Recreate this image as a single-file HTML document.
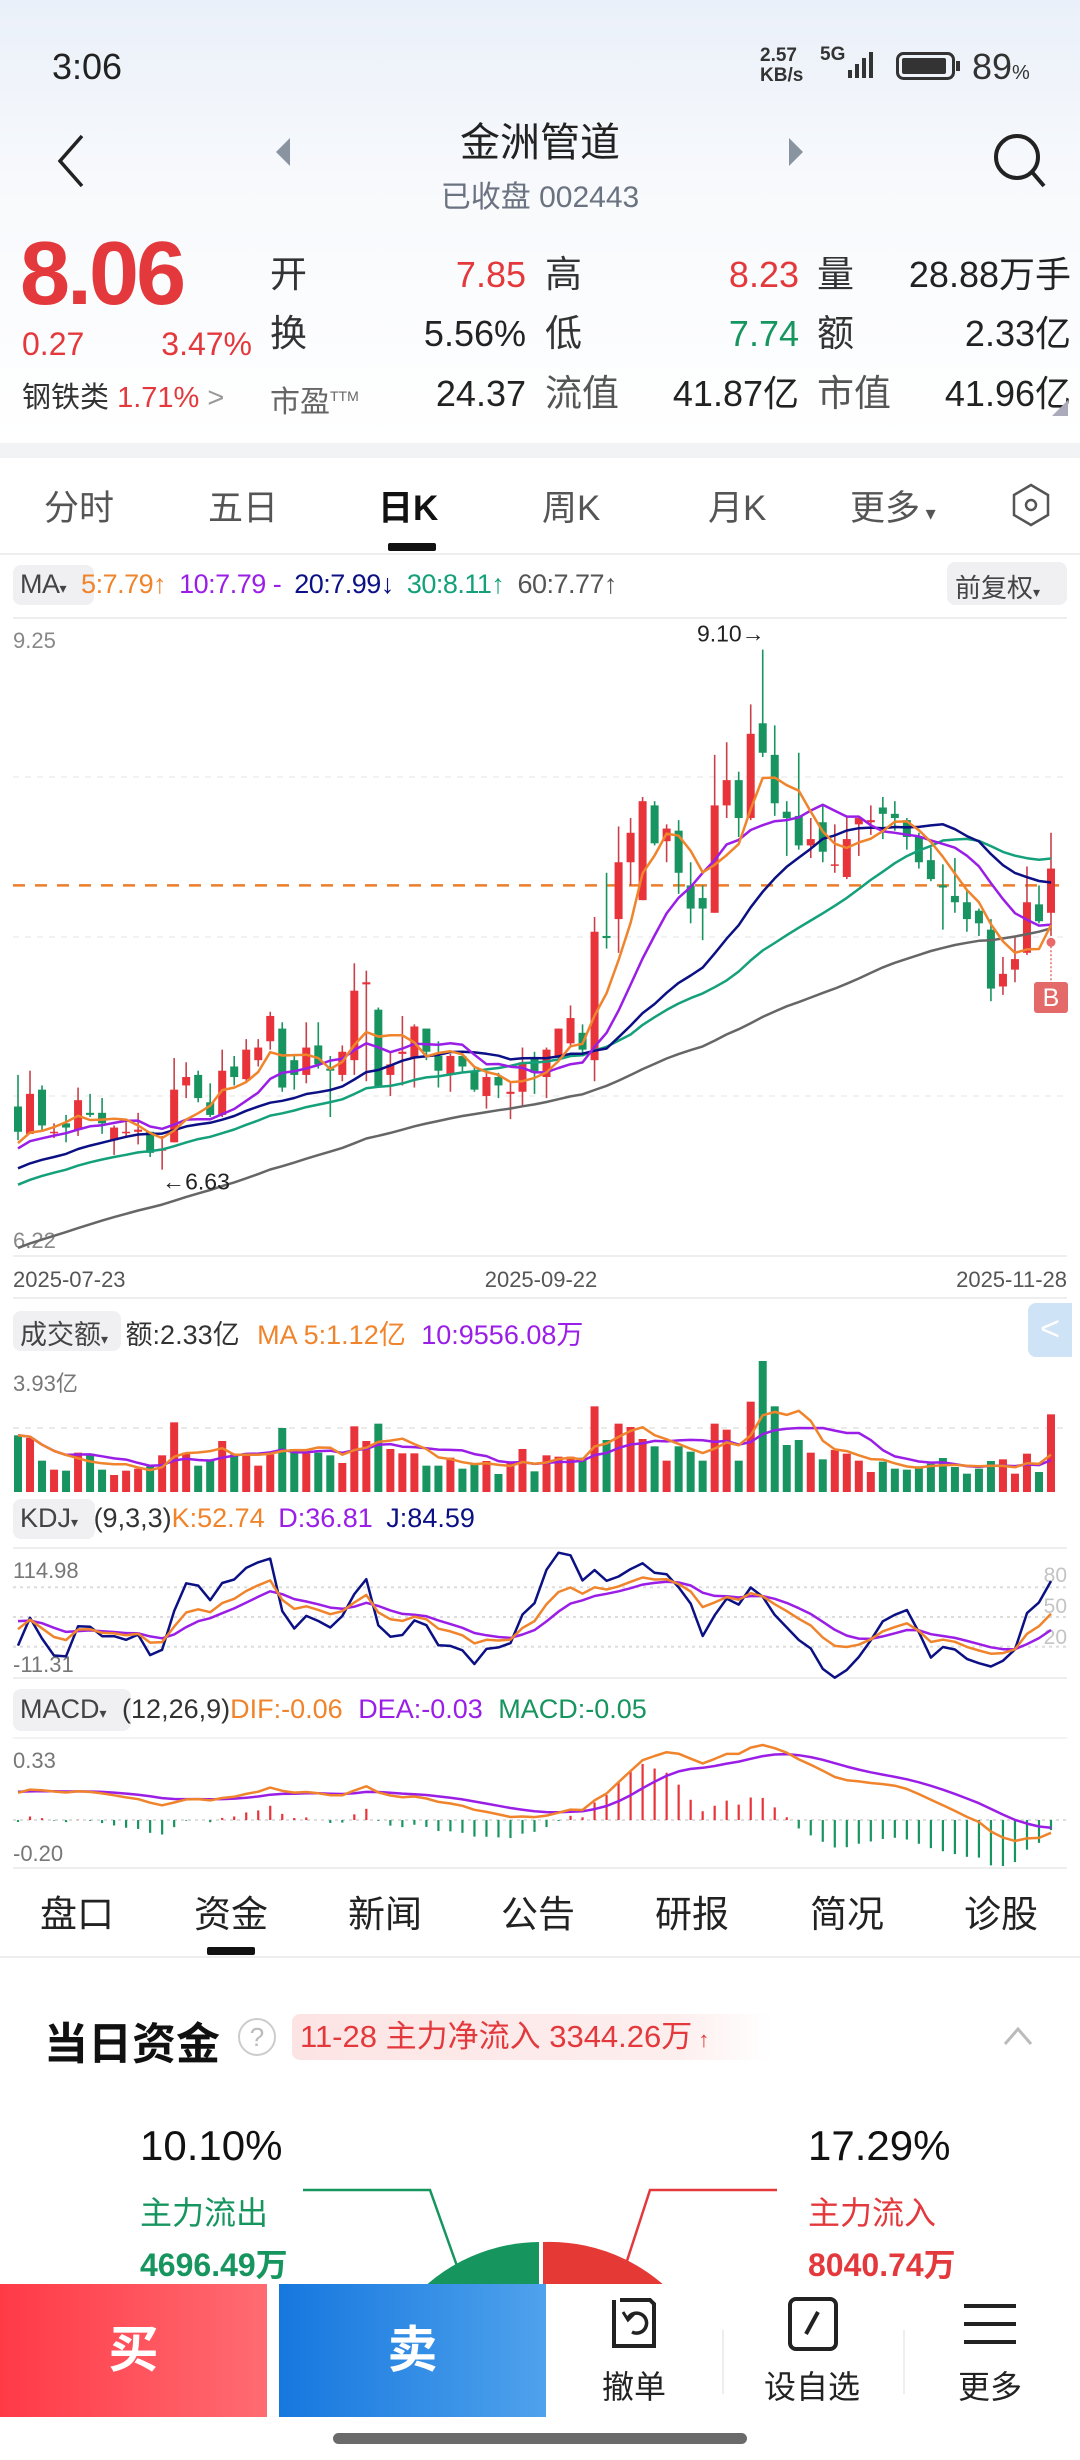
<!DOCTYPE html>
<html><head><meta charset="utf-8">
<style>
*{margin:0;padding:0;box-sizing:border-box}
body{width:1080px;height:2460px;position:relative;overflow:hidden;background:#fff;font-family:"Liberation Sans","Noto Sans CJK SC",sans-serif;color:#222}
.a{position:absolute;white-space:nowrap}
.r{text-align:right}
.red{color:#e4393c}.grn{color:#16955f}
.box{position:absolute;background:#f0f0f2;border-radius:8px}
.q .a{line-height:44px;height:44px}
</style></head><body>
<div class="a" style="left:0;top:0;width:1080px;height:443px;background:linear-gradient(#eaf0f9,#f7f9fc 40%,#fff)"></div>
<div class="a" style="left:52px;top:46px;font-size:36px;color:#222">3:06</div>
<div class="a" style="left:760px;top:46px;font-size:19px;font-weight:bold;line-height:20px;color:#333">2.57<br>KB/s</div>
<div class="a" style="left:820px;top:44px;font-size:19px;font-weight:bold;color:#333">5G</div>
<svg class="a" style="left:842px;top:48px" width="40" height="32"><rect x="6" y="22" width="4" height="8" fill="#333"/><rect x="13" y="16" width="4" height="14" fill="#333"/><rect x="20" y="10" width="4" height="20" fill="#333"/><rect x="27" y="4" width="4" height="26" fill="#333"/></svg>
<svg class="a" style="left:896px;top:52px" width="66" height="28"><rect x="1.5" y="1.5" width="56" height="25" rx="6" fill="none" stroke="#333" stroke-width="3"/><rect x="6" y="6" width="44" height="16" rx="2" fill="#333"/><rect x="60" y="9" width="4" height="10" fill="#333"/></svg>
<div class="a" style="left:972px;top:46px;font-size:36px;color:#333">89<span style="font-size:20px">%</span></div>

<svg class="a" style="left:54px;top:132px" width="34" height="58"><path d="M28 4 L6 29 L28 54" fill="none" stroke="#222" stroke-width="3.5"/></svg>
<svg class="a" style="left:274px;top:136px" width="18" height="32"><path d="M16 2 L2 16 L16 30Z" fill="#8a93a0"/></svg>
<div class="a" style="left:340px;top:110px;width:400px;text-align:center;font-size:40px;color:#222">金洲管道</div>
<div class="a" style="left:340px;top:172px;width:400px;text-align:center;font-size:30px;color:#6b7280">已收盘 002443</div>
<svg class="a" style="left:787px;top:136px" width="18" height="32"><path d="M2 2 L16 16 L2 30Z" fill="#8a93a0"/></svg>
<svg class="a" style="left:990px;top:130px" width="60" height="60"><circle cx="27" cy="27" r="21" fill="none" stroke="#222" stroke-width="4"/><line x1="42" y1="42" x2="54" y2="56" stroke="#222" stroke-width="4"/></svg>

<div class="a red" style="left:20px;top:226px;font-size:90px;font-weight:bold;letter-spacing:-3px;line-height:96px">8.06</div>
<div class="a red" style="left:22px;top:326px;font-size:32px">0.27</div>
<div class="a red r" style="left:130px;width:122px;top:326px;font-size:32px">3.47%</div>
<div class="a" style="left:22px;top:374px;font-size:29px;color:#333">钢铁类 <span class="red">1.71%</span> <span style="color:#999">&gt;</span></div>

<div class="a q" style="left:0;top:0">
<div class="a" style="left:270px;top:253px;font-size:37px;color:#333">开</div>
<div class="a red r" style="left:400px;width:126px;top:253px;font-size:36px">7.85</div>
<div class="a" style="left:545px;top:253px;font-size:37px;color:#333">高</div>
<div class="a red r" style="left:660px;width:139px;top:253px;font-size:36px">8.23</div>
<div class="a" style="left:817px;top:253px;font-size:37px;color:#333">量</div>
<div class="a r" style="left:860px;width:211px;top:253px;font-size:36px">28.88万手</div>
<div class="a" style="left:270px;top:312px;font-size:37px;color:#333">换</div>
<div class="a r" style="left:400px;width:126px;top:312px;font-size:36px">5.56%</div>
<div class="a" style="left:545px;top:312px;font-size:37px;color:#333">低</div>
<div class="a grn r" style="left:660px;width:139px;top:312px;font-size:36px">7.74</div>
<div class="a" style="left:817px;top:312px;font-size:37px;color:#333">额</div>
<div class="a r" style="left:860px;width:211px;top:312px;font-size:36px">2.33亿</div>
<div class="a" style="left:270px;top:374px;font-size:30px;color:#666">市盈<sup style="font-size:14px">TTM</sup></div>
<div class="a r" style="left:400px;width:126px;top:372px;font-size:36px">24.37</div>
<div class="a" style="left:545px;top:372px;font-size:37px;color:#555">流值</div>
<div class="a r" style="left:660px;width:139px;top:372px;font-size:36px">41.87亿</div>
<div class="a" style="left:817px;top:372px;font-size:37px;color:#555">市值</div>
<div class="a r" style="left:860px;width:211px;top:372px;font-size:36px">41.96亿</div>
</div>
<svg class="a" style="left:1052px;top:400px" width="16" height="16"><path d="M16 0 L16 16 L0 16Z" fill="#aab"/></svg>
<div class="a" style="left:0;top:443px;width:1080px;height:15px;background:#f2f3f5"></div>

<div class="a" style="left:0;top:480px;width:1080px;font-size:35px;color:#555">
<div class="a" style="left:44px">分时</div>
<div class="a" style="left:208px">五日</div>
<div class="a" style="left:378px;color:#111;font-weight:bold">日K</div>
<div class="a" style="left:542px">周K</div>
<div class="a" style="left:708px">月K</div>
<div class="a" style="left:850px">更多<span style="font-size:20px"> ▾</span></div>
</div>
<svg class="a" style="left:1008px;top:482px" width="46" height="46"><path d="M23 3 L40 13 L40 33 L23 43 L6 33 L6 13Z" fill="none" stroke="#555" stroke-width="2.5"/><circle cx="23" cy="23" r="5" fill="none" stroke="#555" stroke-width="2.5"/></svg>
<div class="a" style="left:388px;top:543px;width:48px;height:8px;background:#111;border-radius:2px"></div>
<div class="a" style="left:0;top:553px;width:1080px;height:2px;background:#eee"></div>

<div class="box" style="left:13px;top:565px;width:81px;height:40px"></div>
<div class="a" style="left:20px;top:569px;font-size:27px;letter-spacing:-0.5px">
<span style="color:#444">MA<span style="font-size:14px">▾</span></span>
<span style="color:#f0842c;margin-left:8px">5:7.79↑</span>
<span style="color:#9a1ee6;margin-left:6px">10:7.79 -</span>
<span style="color:#0b1084;margin-left:6px">20:7.99↓</span>
<span style="color:#14a07a;margin-left:6px">30:8.11↑</span>
<span style="color:#555;margin-left:6px">60:7.77↑</span></div>
<div class="box" style="left:947px;top:562px;width:120px;height:43px"></div>
<div class="a" style="left:955px;top:568px;font-size:26px;color:#444">前复权<span style="font-size:14px">▾</span></div>

<svg id="chart" class="a" style="left:0;top:0" width="1080" height="1900"></svg>

<div class="box" style="left:13px;top:1311px;width:108px;height:40px"></div>
<div class="a" style="left:20px;top:1313px;font-size:27px">
<span style="color:#444">成交额<span style="font-size:14px">▾</span></span>
<span style="color:#333;margin-left:10px">额:2.33亿</span>
<span style="color:#f0842c;margin-left:10px">MA 5:1.12亿</span>
<span style="color:#9a1ee6;margin-left:8px">10:9556.08万</span></div>
<div class="a" style="left:1028px;top:1303px;width:44px;height:54px;background:#cfe3f6;border-radius:8px 0 0 8px;color:#fff;font-size:34px;text-align:center;line-height:52px">&lt;</div>
<div class="box" style="left:13px;top:1499px;width:82px;height:40px"></div>
<div class="a" style="left:20px;top:1503px;font-size:27px">
<span style="color:#444">KDJ<span style="font-size:14px">▾</span></span>
<span style="color:#333;margin-left:8px">(9,3,3)</span><span style="color:#f0842c">K:52.74</span>
<span style="color:#9a1ee6;margin-left:6px">D:36.81</span>
<span style="color:#0b1084;margin-left:6px">J:84.59</span></div>
<div class="box" style="left:13px;top:1689px;width:118px;height:42px"></div>
<div class="a" style="left:20px;top:1694px;font-size:27px">
<span style="color:#444">MACD<span style="font-size:14px">▾</span></span>
<span style="color:#333;margin-left:8px">(12,26,9)</span><span style="color:#f0842c">DIF:-0.06</span>
<span style="color:#9a1ee6;margin-left:8px">DEA:-0.03</span>
<span style="color:#16955f;margin-left:8px">MACD:-0.05</span></div>

<div class="a" style="left:0;top:1884px;width:1080px;font-size:37px;color:#222">
<div class="a" style="left:40px">盘口</div>
<div class="a" style="left:194px">资金</div>
<div class="a" style="left:348px">新闻</div>
<div class="a" style="left:501px">公告</div>
<div class="a" style="left:655px">研报</div>
<div class="a" style="left:810px">简况</div>
<div class="a" style="left:964px">诊股</div>
</div>
<div class="a" style="left:207px;top:1947px;width:48px;height:8px;background:#111;border-radius:2px"></div>
<div class="a" style="left:0;top:1956px;width:1080px;height:2px;background:#eee"></div>

<div class="a" style="left:44px;top:2008px;font-size:44px;font-weight:bold;color:#111">当日资金</div>
<div class="a" style="left:238px;top:2018px;width:38px;height:38px;border:2px solid #ccc;border-radius:50%;color:#bbb;font-size:26px;text-align:center;line-height:34px">?</div>
<div class="a" style="left:292px;top:2014px;width:480px;height:46px;border-radius:8px;background:linear-gradient(90deg,#fde4e4,#fdeeee 80%,#fff);color:#e4393c;font-size:31px;line-height:46px;padding-left:8px">11-28 主力净流入 3344.26万<span style="font-size:22px"> ↑</span></div>
<svg class="a" style="left:1002px;top:2024px" width="32" height="24"><path d="M3 20 L16 5 L29 20" fill="none" stroke="#bbb" stroke-width="3"/></svg>

<div class="a" style="left:140px;top:2122px;font-size:42px;color:#111">10.10%</div>
<div class="a grn" style="left:140px;top:2188px;font-size:32px">主力流出</div>
<div class="a grn" style="left:140px;top:2240px;font-size:32px;font-weight:bold">4696.49万</div>
<div class="a" style="left:808px;top:2122px;font-size:42px;color:#111">17.29%</div>
<div class="a red" style="left:808px;top:2188px;font-size:32px">主力流入</div>
<div class="a red" style="left:808px;top:2240px;font-size:32px;font-weight:bold">8040.74万</div>
<svg class="a" style="left:0;top:2170px" width="1080" height="120">
<path d="M303 20 L430 20 L457 96" fill="none" stroke="#16955f" stroke-width="2.5"/>
<path d="M777 20 L650 20 L624 100" fill="none" stroke="#e4393c" stroke-width="2.5"/>
<path d="M539 72 A173 173 0 0 0 400 144 L539 144Z" fill="#16955f"/>
<path d="M543 72 A173 173 0 0 1 690 144 L543 144Z" fill="#e53935"/>
</svg>

<div class="a" style="left:0;top:2284px;width:267px;height:133px;background:linear-gradient(90deg,#ff3a47,#ff6b72);color:#fff;font-size:50px;font-weight:bold;text-align:center;line-height:133px">买</div>
<div class="a" style="left:279px;top:2284px;width:267px;height:133px;background:linear-gradient(90deg,#1677de,#4fa2ec);color:#fff;font-size:50px;font-weight:bold;text-align:center;line-height:133px">卖</div>
<div class="a" style="left:546px;top:2284px;width:534px;height:133px;background:#fff"></div>
<svg class="a" style="left:610px;top:2296px" width="54" height="56"><path d="M10 4 L40 4 L44 8 L44 50 L4 50 L4 4" fill="none" stroke="#222" stroke-width="4"/><path d="M18 22 A10 10 0 1 1 22 36" fill="none" stroke="#222" stroke-width="3.5"/><path d="M13 16 L18 24 L24 18" fill="none" stroke="#222" stroke-width="3"/></svg>
<div class="a" style="left:602px;top:2362px;font-size:32px;color:#222">撤单</div>
<div class="a" style="left:722px;top:2330px;width:2px;height:64px;background:#eee"></div>
<svg class="a" style="left:786px;top:2296px" width="54" height="56"><rect x="4" y="3" width="46" height="50" rx="6" fill="none" stroke="#222" stroke-width="4"/><line x1="20" y1="38" x2="32" y2="16" stroke="#222" stroke-width="4"/></svg>
<div class="a" style="left:764px;top:2362px;font-size:32px;color:#222">设自选</div>
<div class="a" style="left:903px;top:2330px;width:2px;height:64px;background:#eee"></div>
<svg class="a" style="left:962px;top:2300px" width="56" height="48"><line x1="2" y1="6" x2="54" y2="6" stroke="#222" stroke-width="4"/><line x1="2" y1="24" x2="54" y2="24" stroke="#222" stroke-width="4"/><line x1="2" y1="42" x2="54" y2="42" stroke="#222" stroke-width="4"/></svg>
<div class="a" style="left:958px;top:2362px;font-size:32px;color:#222">更多</div>
<div class="a" style="left:333px;top:2433px;width:414px;height:11px;border-radius:6px;background:#6a6a6a"></div>

<script>
const tickDates = ['2025-07-23','2025-09-22','2025-11-28'];
const priceTicks = ['9.25','6.22'];
const priorClose = [5.70,5.72,5.75,5.73,5.78,5.80,5.82,5.79,5.84,5.86,5.88,5.90,5.87,5.92,5.95,5.97,5.94,5.99,6.01,6.03,6.00,6.05,6.08,6.06,6.10,6.12,6.09,6.14,6.16,6.15,6.25,6.30,6.28,6.35,6.40,6.38,6.42,6.45,6.47,6.50,6.48,6.52,6.50,6.55,6.53,6.50,6.56,6.58,6.54,6.54,6.60,6.65,6.70,6.68,6.72,6.78,6.74,6.80,6.72,6.71];
const open = [6.93,6.80,7.01,6.81,6.85,6.82,6.90,6.90,6.77,6.81,6.81,6.81,6.72,6.76,7.03,7.08,6.95,6.89,7.12,7.06,7.15,7.24,7.30,7.15,7.08,7.22,7.11,7.08,7.15,7.51,7.39,7.08,7.18,7.16,7.30,7.17,7.08,7.17,7.10,6.98,7.07,6.99,7.00,7.16,7.07,7.17,7.23,7.28,7.15,7.74,7.82,8.09,7.91,8.36,8.19,8.24,7.98,7.92,7.85,8.36,8.48,8.30,8.75,8.60,8.33,8.31,8.17,8.28,8.08,8.02,8.27,8.28,8.35,8.32,8.29,8.21,8.10,7.98,7.93,7.90,7.86,7.77,7.50,7.58,7.66,7.89,7.85];
const high = [7.08,7.10,7.03,6.85,6.89,7.02,6.99,6.97,6.84,6.87,6.90,6.81,6.79,7.16,7.14,7.10,7.04,7.20,7.17,7.25,7.25,7.38,7.33,7.18,7.33,7.33,7.17,7.22,7.61,7.575,7.40,7.19,7.36,7.32,7.30,7.24,7.18,7.18,7.12,7.09,7.09,7.05,7.21,7.19,7.21,7.30,7.41,7.32,7.83,8.04,8.26,8.30,8.40,8.38,8.27,8.29,8.09,7.98,8.60,8.66,8.52,8.84,9.10,8.74,8.38,8.61,8.30,8.36,8.27,8.31,8.31,8.36,8.40,8.38,8.30,8.23,8.16,8.08,8.11,7.96,7.87,7.82,7.64,7.74,8.07,7.98,8.23];
const low = [6.77,6.80,6.82,6.78,6.76,6.79,6.88,6.80,6.70,6.79,6.75,6.69,6.63,6.76,6.97,6.95,6.88,6.88,7.03,7.05,7.12,7.20,7.00,7.01,7.04,7.11,6.88,7.05,7.08,7.05,7.02,6.98,7.03,7.02,7.15,7.02,7.00,7.09,7.00,6.92,6.97,6.87,6.93,6.99,6.97,7.16,7.22,7.17,7.05,7.68,7.66,7.98,7.91,8.17,8.09,7.94,7.80,7.72,7.85,8.30,8.21,8.29,8.59,8.31,8.12,8.15,8.11,8.09,8.04,8.01,8.12,8.22,8.20,8.24,8.15,8.06,8.00,7.77,7.85,7.76,7.74,7.43,7.46,7.52,7.65,7.80,7.74];
const close = [6.81,6.99,6.84,6.81,6.83,6.96,6.89,6.85,6.83,6.81,6.82,6.71,6.73,7.01,7.07,6.97,6.89,7.10,7.07,7.20,7.21,7.36,7.02,7.08,7.21,7.13,7.10,7.19,7.48,7.52,7.02,7.13,7.19,7.31,7.19,7.10,7.17,7.12,7.01,7.07,7.03,7.00,7.14,7.09,7.20,7.30,7.35,7.20,7.76,7.73,8.09,8.23,8.38,8.18,8.25,8.04,7.87,7.87,8.36,8.48,8.30,8.70,8.61,8.37,8.30,8.17,8.20,8.14,8.08,8.20,8.30,8.29,8.32,8.30,8.21,8.09,8.01,7.97,7.90,7.82,7.80,7.49,7.56,7.63,7.90,7.81,8.06];
const amount = [1.70,1.62,0.94,0.67,0.64,1.18,1.15,0.67,0.51,0.64,0.70,0.77,1.10,2.09,1.18,0.79,0.98,1.53,1.13,1.16,0.79,1.13,1.92,1.29,1.16,1.18,1.10,0.87,1.97,1.53,2.05,1.29,1.16,1.16,0.79,0.79,1.03,0.70,0.87,0.93,0.54,0.87,1.29,0.62,1.10,1.06,1.06,1.03,2.57,1.56,2.05,1.95,1.59,1.37,0.94,1.37,1.21,0.94,2.05,1.87,0.94,2.71,3.93,2.57,1.41,1.56,1.18,0.98,1.26,1.15,0.94,0.60,0.91,0.70,0.67,0.77,0.85,1.02,0.75,0.55,0.70,0.93,0.98,0.55,1.15,0.60,2.33];
const refPrice = 7.98;
const highMark = '9.10→', lowMark = '←6.63';

const svg = document.getElementById('chart');
const NS = 'http://www.w3.org/2000/svg';
function mk(tag, attrs, name){
  const e = document.createElementNS(NS, tag);
  for (const k in attrs) e.setAttribute(k, attrs[k]);
  
  
  svg.appendChild(e); return e;
}
const RED='#e8333a', GRN='#17945f';
const N = close.length;
const X0=18, X1=1051;
function xi(i){return X0 + i*(X1-X0)/(N-1);}
const PT=618, PB=1256, PMAX=9.25, PMIN=6.22;
function yP(p){return PT + (PMAX-p)/(PMAX-PMIN)*(PB-PT);}
const VB=1492, VT=1361, VMAX=3.93;
function yV(v){return VB - v/VMAX*(VB-VT);}
function yK(v){return 1587.3 + (80-v)*0.99;}

[[1256],[1298],[1678],[1868]].forEach(function(a){ mk('line',{x1:13,x2:1067,y1:a[0],y2:a[0],stroke:'#eee','stroke-width':2},'panel-border'); });
mk('line',{x1:13,x2:1067,y1:618,y2:618,stroke:'#eee','stroke-width':2},'panel-border');
mk('line',{x1:13,x2:1067,y1:1548,y2:1548,stroke:'#eee','stroke-width':2},'panel-border');
mk('line',{x1:13,x2:1067,y1:1738,y2:1738,stroke:'#f3f3f3','stroke-width':2},'panel-border');
[777,937,1096].forEach(function(y){ mk('line',{x1:13,x2:1067,y1:y,y2:y,stroke:'#eee','stroke-width':1.5,'stroke-dasharray':'6 6'},'price-gridline'); });
mk('line',{x1:13,x2:1067,y1:1428,y2:1428,stroke:'#e4e4e4','stroke-width':1.5,'stroke-dasharray':'6 6'},'volume-gridline');
[80,50,20].forEach(function(v){ mk('line',{x1:13,x2:1067,y1:yK(v),y2:yK(v),stroke:'#ddd','stroke-width':2,'stroke-dasharray':'3 4'},'kdj-gridline'); });

let t;
t=mk('text',{x:13,y:648,'font-size':22,fill:'#888'},'price-max-label'); t.textContent=priceTicks[0];
t=mk('text',{x:13,y:1248,'font-size':22,fill:'#888'},'price-min-label'); t.textContent=priceTicks[1];
t=mk('text',{x:13,y:1287,'font-size':22,fill:'#555'},'date-start'); t.textContent=tickDates[0];
t=mk('text',{x:541,y:1287,'font-size':22,fill:'#555','text-anchor':'middle'},'date-mid'); t.textContent=tickDates[1];
t=mk('text',{x:1067,y:1287,'font-size':22,fill:'#555','text-anchor':'end'},'date-end'); t.textContent=tickDates[2];
t=mk('text',{x:13,y:1391,'font-size':22,fill:'#777'},'volume-max-label'); t.textContent='3.93亿';
t=mk('text',{x:13,y:1578,'font-size':22,fill:'#777'},'kdj-max-label'); t.textContent='114.98';
t=mk('text',{x:13,y:1672,'font-size':22,fill:'#777'},'kdj-min-label'); t.textContent='-11.31';
[['80',1582],['50',1613],['20',1644]].forEach(function(a){ t=mk('text',{x:1067,y:a[1],'font-size':21,fill:'#c4c4c4','text-anchor':'end'},'kdj-level-label'); t.textContent=a[0]; });
t=mk('text',{x:13,y:1768,'font-size':22,fill:'#777'},'macd-max-label'); t.textContent='0.33';
t=mk('text',{x:13,y:1861,'font-size':22,fill:'#777'},'macd-min-label'); t.textContent='-0.20';

mk('line',{x1:13,x2:1067,y1:yP(refPrice),y2:yP(refPrice),stroke:'#ec7d2a','stroke-width':2.5,'stroke-dasharray':'12 10'},'reference-price-line');

for (let i=0;i<N;i++){
  const up = close[i] >= open[i];
  const c = up ? RED : GRN;
  const x = xi(i);
  mk('line',{x1:x,x2:x,y1:yP(high[i]),y2:yP(low[i]),stroke:up?'#c8414a':c,'stroke-width':1.6},'candle-wick');
  const top = yP(Math.max(open[i],close[i])), bot = yP(Math.min(open[i],close[i]));
  mk('rect',{x:x-4,y:top,width:8,height:Math.max(1.5,bot-top),fill:c},'candle-body');
}
const all = priorClose.concat(close);
function maSeries(n){ const out=[]; for(let i=0;i<N;i++){ let s=0; for(let k=0;k<n;k++) s+=all[i+priorClose.length-k]; out.push(s/n);} return out; }
function polyline(vals, yf, color, w, name){
  const pts = vals.map(function(v,i){return xi(i).toFixed(1)+','+yf(v).toFixed(1);}).join(' ');
  mk('polyline',{points:pts,fill:'none',stroke:color,'stroke-width':w,'stroke-linejoin':'round'},name);
}
polyline(maSeries(60), yP, '#666', 2.5, 'ma60-line');
polyline(maSeries(30), yP, '#14a07a', 2.5, 'ma30-line');
polyline(maSeries(20), yP, '#0b1084', 2.5, 'ma20-line');
polyline(maSeries(10), yP, '#9a1ee6', 2.5, 'ma10-line');
polyline(maSeries(5), yP, '#f0842c', 2.5, 'ma5-line');

let hi=0, lo=0;
for (let i=0;i<N;i++){ if(high[i]>high[hi]) hi=i; if(low[i]<low[lo]) lo=i; }
t=mk('text',{x:xi(hi)+2,y:yP(high[hi])-8,'font-size':23,fill:'#222','text-anchor':'end'},'high-marker'); t.textContent=highMark;
t=mk('text',{x:xi(lo),y:yP(low[lo])+20,'font-size':23,fill:'#222'},'low-marker'); t.textContent=lowMark;
const bx = xi(N-1);
mk('circle',{cx:bx,cy:yP(7.71),r:4.5,fill:'#ea6a6a'},'buy-point-dot');
mk('line',{x1:bx,x2:bx,y1:yP(7.71),y2:982,stroke:'#ea6a6a','stroke-width':1.5,'stroke-dasharray':'2 2'},'buy-point-stem');
mk('rect',{x:bx-17,y:982,width:34,height:31,rx:3,fill:'#e46a6a'},'buy-point-badge');
t=mk('text',{x:bx,y:1006,'font-size':25,fill:'#fff','text-anchor':'middle'},'buy-point-label'); t.textContent='B';

for (let i=0;i<N;i++){
  const up = close[i] >= open[i];
  mk('rect',{x:xi(i)-4,y:yV(amount[i]),width:8,height:VB-yV(amount[i]),fill:up?RED:GRN},'volume-bar');
}
function smaPartial(arr,n){ return arr.map(function(v,i){ let s=0,c=0; for(let k=Math.max(0,i-n+1);k<=i;k++){s+=arr[k];c++;} return s/c; }); }
polyline(smaPartial(amount,10), yV, '#9a1ee6', 2.5, 'volume-ma10-line');
polyline(smaPartial(amount,5), yV, '#f0842c', 2.5, 'volume-ma5-line');

const K=[],D=[],J=[]; let kp=50,dp=50;
for (let i=0;i<N;i++){
  let hh=-1e9, ll=1e9;
  for (let k=Math.max(0,i-8);k<=i;k++){ hh=Math.max(hh,high[k]); ll=Math.min(ll,low[k]); }
  const rsv = hh>ll ? (close[i]-ll)/(hh-ll)*100 : 50;
  kp = 2/3*kp + rsv/3; dp = 2/3*dp + kp/3;
  K.push(kp); D.push(dp); J.push(3*kp-2*dp);
}
function clampK(v){ return Math.max(-11.31, Math.min(114.98, v)); }
polyline(J.map(clampK), yK, '#0b1084', 2.5, 'kdj-j-line');
polyline(D, yK, '#9a1ee6', 2.5, 'kdj-d-line');
polyline(K, yK, '#f0842c', 2.5, 'kdj-k-line');

function ema(arr,n){ const a=2/(n+1); const out=[]; let e=arr[0]; arr.forEach(function(v){ e=a*v+(1-a)*e; out.push(e); }); return out; }
const e12=ema(all,12), e26=ema(all,26);
const difAll = all.map(function(v,i){return e12[i]-e26[i];});
const deaAll = ema(difAll,9);
const P = priorClose.length;
const DIF = difAll.slice(P), DEA = deaAll.slice(P);
const HIST = DIF.map(function(v,i){return 2*(v-DEA[i]);});
let mx=-1e9, mn=1e9;
DIF.concat(DEA,HIST).forEach(function(v){ mx=Math.max(mx,v); mn=Math.min(mn,v); });
mx=Math.max(mx,0.01); mn=Math.min(mn,-0.01);
const MT=1745, MB=1866;
function yM(v){ return MT + (mx-v)/(mx-mn)*(MB-MT); }
mk('line',{x1:13,x2:1067,y1:yM(0),y2:yM(0),stroke:'#ddd','stroke-width':2,'stroke-dasharray':'3 4'},'macd-zero-line');
for (let i=0;i<N;i++){
  mk('line',{x1:xi(i),x2:xi(i),y1:yM(0),y2:yM(HIST[i]),stroke:HIST[i]>=0?RED:GRN,'stroke-width':2.2},'macd-histogram-bar');
}
polyline(DEA, yM, '#9a1ee6', 2.5, 'macd-dea-line');
polyline(DIF, yM, '#f0842c', 2.5, 'macd-dif-line');
</script>
</body></html>
